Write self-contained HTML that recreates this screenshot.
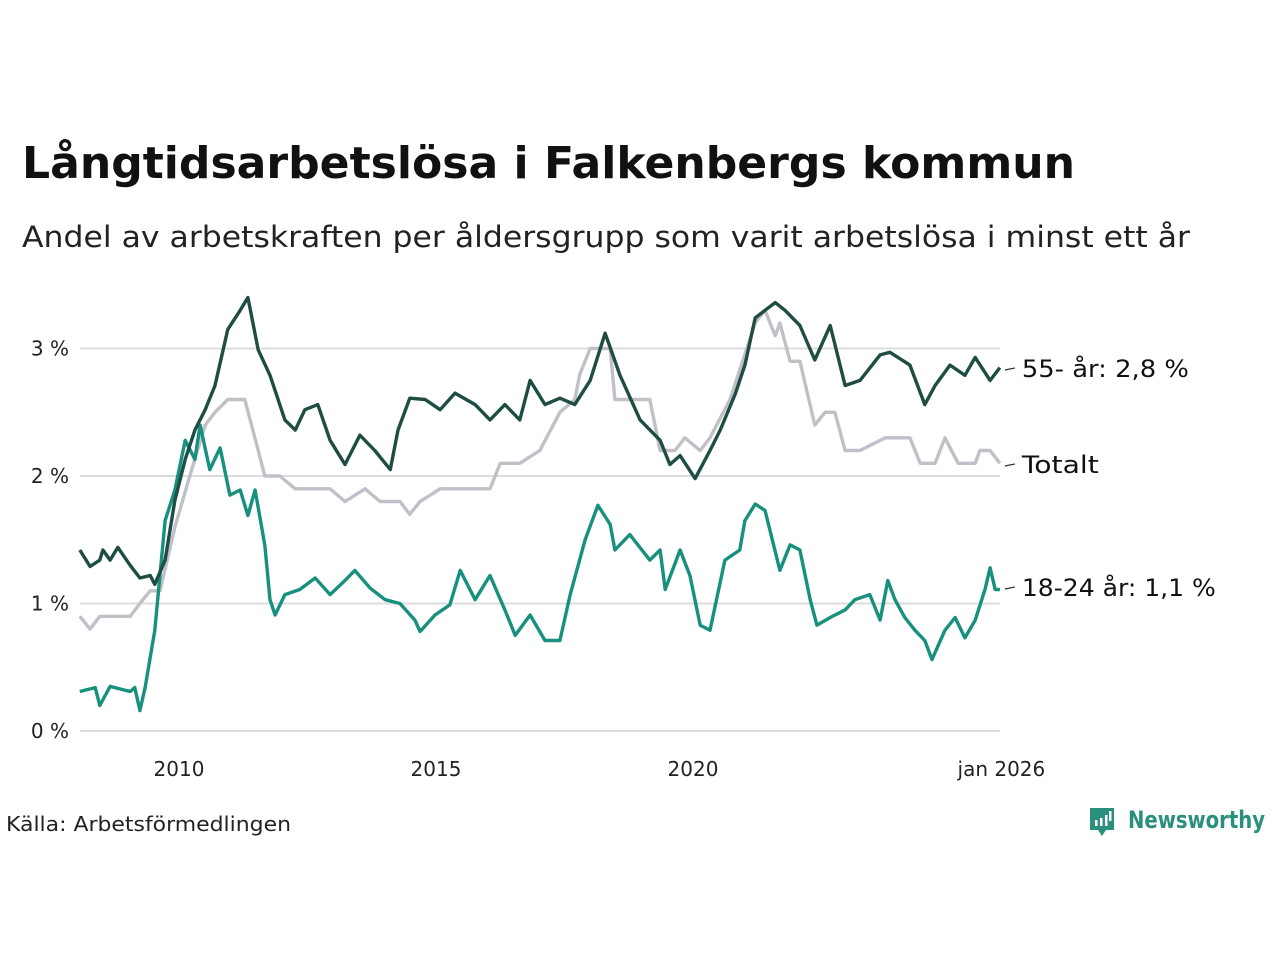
<!DOCTYPE html>
<html><head><meta charset="utf-8"><style>
body{margin:0;background:#fff;width:1280px;height:960px;overflow:hidden;font-family:"DejaVu Sans","Liberation Sans",sans-serif;}
</style></head><body>
<svg width="1280" height="960" xmlns="http://www.w3.org/2000/svg" font-family="DejaVu Sans, Liberation Sans, sans-serif">
<text x="22" y="178" font-size="44" font-weight="bold" fill="#111" textLength="1053" lengthAdjust="spacingAndGlyphs">Långtidsarbetslösa i Falkenbergs kommun</text>
<text x="22" y="247" font-size="29" fill="#222" textLength="1168" lengthAdjust="spacingAndGlyphs">Andel av arbetskraften per åldersgrupp som varit arbetslösa i minst ett år</text>
<g id="grid"></g><g id="xaxis"></g><g id="lines"></g><g id="labels"></g>
<text x="6" y="831" font-size="20" fill="#222" textLength="285" lengthAdjust="spacingAndGlyphs">Källa: Arbetsförmedlingen</text>
<g>
<path d="M1090 808 h24 v22 h-8 l-4 6 l-4 -6 h-8 z" fill="#2a8f7c"/>
<rect x="1095" y="820" width="2.5" height="6" fill="#fff"/><rect x="1100" y="818" width="2.5" height="8" fill="#fff"/><rect x="1105" y="815" width="2.5" height="11" fill="#fff"/><rect x="1109" y="811" width="2.5" height="10" fill="#fff"/>
<text x="1128" y="828" font-size="24" font-weight="bold" fill="#2a8f7c" textLength="137" lengthAdjust="spacingAndGlyphs">Newsworthy</text>
</g>
</svg>
<script>
const yTicks=[0,1,2,3];
const yTickLabels=["0 %","1 %","2 %","3 %"];
const xTicks=[2010,2015,2020,2026];
const xTickLabels=["2010","2015","2020","jan 2026"];
const dDates=[2008.07,2008.27,2008.46,2008.52,2008.66,2008.81,2009.05,2009.24,2009.44,2009.53,2009.73,2009.92,2010.12,2010.31,2010.51,2010.70,2010.95,2011.19,2011.34,2011.54,2011.77,2012.06,2012.26,2012.45,2012.70,2012.94,2013.23,2013.52,2013.81,2014.11,2014.26,2014.49,2014.79,2015.08,2015.37,2015.76,2016.05,2016.34,2016.63,2016.83,2017.12,2017.41,2017.70,2018.00,2018.29,2018.58,2018.97,2019.36,2019.55,2019.75,2020.04,2020.33,2020.53,2020.82,2021.01,2021.21,2021.40,2021.60,2021.79,2022.08,2022.37,2022.67,2022.96,2023.25,2023.64,2023.83,2024.22,2024.51,2024.71,2025.00,2025.29,2025.49,2025.78,2025.97];
const dVals=[1.42,1.29,1.34,1.42,1.34,1.44,1.30,1.20,1.22,1.15,1.34,1.81,2.13,2.36,2.52,2.71,3.15,3.30,3.40,2.99,2.79,2.44,2.36,2.52,2.56,2.28,2.09,2.32,2.20,2.05,2.36,2.61,2.60,2.52,2.65,2.56,2.44,2.56,2.44,2.75,2.56,2.61,2.56,2.75,3.12,2.79,2.44,2.28,2.09,2.16,1.98,2.20,2.36,2.64,2.87,3.24,3.30,3.36,3.30,3.18,2.91,3.18,2.71,2.75,2.95,2.97,2.87,2.56,2.71,2.87,2.79,2.93,2.75,2.85];
const gDates=[2008.07,2008.27,2008.46,2008.66,2009.05,2009.24,2009.44,2009.63,2009.92,2010.21,2010.51,2010.70,2010.95,2011.15,2011.28,2011.54,2011.67,2011.96,2012.26,2012.55,2012.94,2013.23,2013.62,2013.91,2014.30,2014.49,2014.69,2015.08,2015.27,2015.47,2016.05,2016.25,2016.63,2017.02,2017.41,2017.70,2017.80,2018.00,2018.39,2018.48,2018.87,2019.16,2019.36,2019.65,2019.84,2020.14,2020.33,2020.72,2021.21,2021.40,2021.60,2021.69,2021.89,2022.08,2022.37,2022.57,2022.76,2022.96,2023.25,2023.74,2024.22,2024.42,2024.71,2024.90,2025.16,2025.49,2025.58,2025.78,2025.97];
const gVals=[0.9,0.8,0.9,0.9,0.9,1.0,1.1,1.1,1.6,2.0,2.4,2.5,2.6,2.6,2.6,2.2,2.0,2.0,1.9,1.9,1.9,1.8,1.9,1.8,1.8,1.7,1.8,1.9,1.9,1.9,1.9,2.1,2.1,2.2,2.5,2.6,2.8,3.0,3.0,2.6,2.6,2.6,2.2,2.2,2.3,2.2,2.3,2.6,3.2,3.3,3.1,3.2,2.9,2.9,2.4,2.5,2.5,2.2,2.2,2.3,2.3,2.1,2.1,2.3,2.1,2.1,2.2,2.2,2.1];
const tDates=[2008.07,2008.37,2008.46,2008.66,2009.05,2009.14,2009.24,2009.34,2009.53,2009.73,2009.92,2010.12,2010.31,2010.41,2010.60,2010.80,2010.99,2011.19,2011.34,2011.48,2011.67,2011.77,2011.87,2012.06,2012.35,2012.65,2012.94,2013.23,2013.42,2013.72,2014.01,2014.30,2014.59,2014.69,2014.98,2015.27,2015.47,2015.76,2016.05,2016.34,2016.54,2016.83,2017.12,2017.41,2017.61,2017.90,2018.15,2018.39,2018.48,2018.77,2019.16,2019.36,2019.46,2019.75,2019.94,2020.14,2020.33,2020.62,2020.91,2021.01,2021.21,2021.40,2021.69,2021.89,2022.08,2022.28,2022.41,2022.67,2022.96,2023.15,2023.44,2023.64,2023.79,2023.93,2024.12,2024.32,2024.51,2024.65,2024.90,2025.10,2025.29,2025.49,2025.68,2025.78,2025.88,2025.97];
const tVals=[0.31,0.34,0.20,0.35,0.31,0.34,0.16,0.34,0.79,1.65,1.89,2.28,2.13,2.40,2.05,2.22,1.85,1.89,1.69,1.89,1.46,1.03,0.91,1.07,1.11,1.20,1.07,1.18,1.26,1.12,1.03,1.00,0.87,0.78,0.91,0.99,1.26,1.03,1.22,0.95,0.75,0.91,0.71,0.71,1.07,1.50,1.77,1.62,1.42,1.54,1.34,1.42,1.11,1.42,1.22,0.83,0.79,1.34,1.42,1.65,1.78,1.73,1.26,1.46,1.42,1.03,0.83,0.89,0.95,1.03,1.07,0.87,1.18,1.03,0.89,0.79,0.71,0.56,0.79,0.89,0.73,0.87,1.11,1.28,1.11,1.11];
const seriesNames=["55- år: 2,8 %","Totalt","18-24 år: 1,1 %"];
const NS="http://www.w3.org/2000/svg";
const X=t=>179+(t-2010)*51.4;
const Y=v=>731-v*127.5;
const grid=document.getElementById('grid'),xa=document.getElementById('xaxis'),lines=document.getElementById('lines'),labs=document.getElementById('labels');
function mk(tag,attrs,parent){const e=document.createElementNS(NS,tag);for(const k in attrs)e.setAttribute(k,attrs[k]);parent.appendChild(e);return e;}
yTicks.forEach((v,i)=>{
 const l=mk('line',{x1:80,x2:1000,y1:Y(v),y2:Y(v),stroke:'#dcdcdf','stroke-width':2},grid);
 
 
 const t=mk('text',{x:69,y:Y(v)+7,'text-anchor':'end','font-size':20,fill:'#222'},grid);
 t.textContent=yTickLabels[i];
 
 
});
xTicks.forEach((v,i)=>{
 const t=mk('text',{x:X(v),y:776,'text-anchor':'middle','font-size':20,fill:'#222'},xa);
 t.textContent=xTickLabels[i];
 
 
});
function line(d,v,color,name){
 const p=mk('path',{d:d.map((t,i)=>(i?'L':'M')+X(t).toFixed(1)+' '+Y(v[i]).toFixed(1)).join(''),fill:'none',stroke:color,'stroke-width':3.4,'stroke-linejoin':'round'},lines);
 
 
}
line(gDates,gVals,'#c1c0c9','series-totalt');
line(tDates,tVals,'#17907e','series-18-24');
line(dDates,dVals,'#1e4d44','series-55-plus');
const ends=[[dVals[dVals.length-1],dDates[dDates.length-1],368,167],[gVals[gVals.length-1],gDates[gDates.length-1],464,77],[tVals[tVals.length-1],tDates[tDates.length-1],587,194]];
ends.forEach((e,i)=>{
 mk('line',{x1:X(e[1])+5,x2:X(e[1])+15,y1:e[2]+2,y2:e[2],stroke:'#333','stroke-width':1.2},labs);
 const t=mk('text',{x:X(e[1])+22,y:e[2]+9,'font-size':24,fill:'#111',textLength:e[3],lengthAdjust:'spacingAndGlyphs'},labs);
 t.textContent=seriesNames[i];
 
 
});
</script>
</body></html>
